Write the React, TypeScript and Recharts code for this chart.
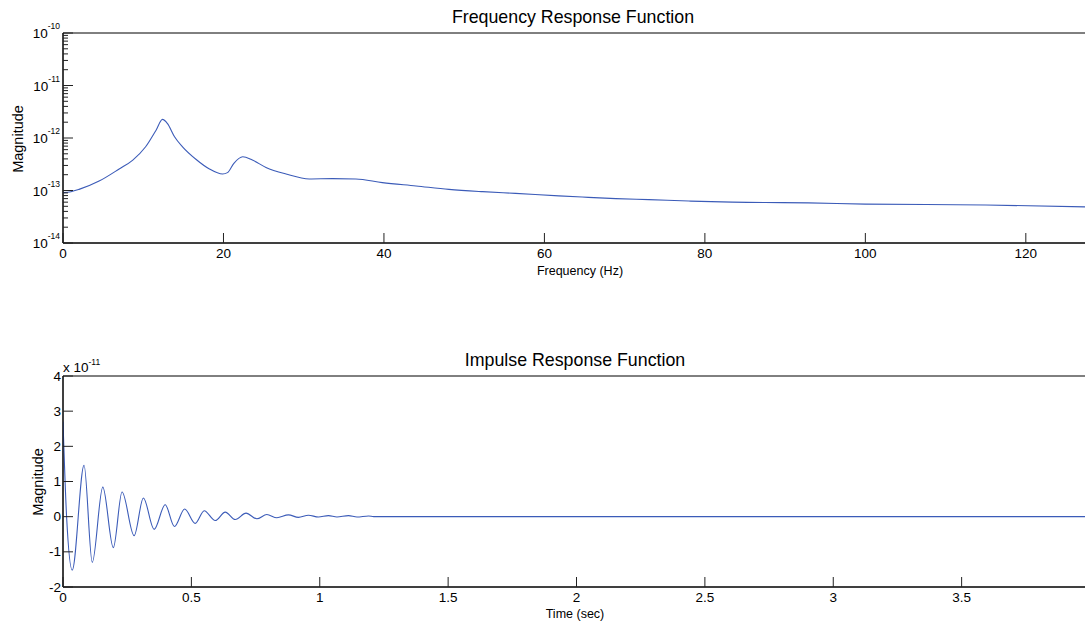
import { LineChart, Line, XAxis, YAxis, ReferenceArea } from "recharts";

// FRF magnitude (Hz -> magnitude)
const freqHz = [
  0, 1, 2, 4.5, 7, 8.7, 10.3, 11.6, 12.4, 13.0, 13.9, 14.9, 16.6, 18.2, 19.9,
  20.5, 21.3, 22.4, 23.6, 25.3, 27.8, 30.7, 33.6, 36.5, 39.8, 44, 48.1, 52.3,
  56.4, 61.8, 64.7, 68.9, 73, 78, 83.4, 87.5, 92.9, 100, 115, 128,
];
const frfMag = [
  9.1e-14, 9.5e-14, 1.05e-13, 1.51e-13, 2.57e-13, 3.8e-13, 6.8e-13, 1.41e-12,
  2.26e-12, 1.9e-12, 1.06e-12, 6.8e-13, 3.9e-13, 2.6e-13, 2.06e-13, 2.19e-13,
  3.3e-13, 4.4e-13, 3.8e-13, 2.75e-13, 2.06e-13, 1.66e-13, 1.68e-13, 1.66e-13,
  1.41e-13, 1.22e-13, 1.05e-13, 9.5e-14, 8.8e-14, 7.9e-14, 7.5e-14, 7.0e-14,
  6.7e-14, 6.3e-14, 6.0e-14, 5.9e-14, 5.8e-14, 5.5e-14, 5.3e-14, 4.85e-14,
];

// impulse response, in units of 1e-11
const timeSec = [
  0, 0.014, 0.036, 0.082, 0.114, 0.155, 0.196, 0.23, 0.277, 0.313, 0.355,
  0.398, 0.434, 0.474, 0.515, 0.55, 0.593, 0.632, 0.671, 0.713, 0.755, 0.794,
  0.833, 0.878, 0.917, 0.956, 0.995, 1.034, 1.067, 1.112, 1.145, 1.19, 1.21, 4,
];
const irfAmp = [
  2.7, 0, -1.52, 1.46, -1.3, 0.84, -0.88, 0.7, -0.54, 0.53, -0.36, 0.34, -0.28,
  0.22, -0.19, 0.17, -0.11, 0.13, -0.08, 0.1, -0.06, 0.06, -0.03, 0.05, -0.02,
  0.04, -0.01, 0.03, -0.01, 0.03, -0.01, 0.02, 0, 0,
];

const freqTicks = [0, 20, 40, 60, 80, 100, 120];
const magDecades = [-14, -13, -12, -11, -10];
const timeTicks = [0, 0.5, 1, 1.5, 2, 2.5, 3, 3.5];
const ampTicks = [-2, -1, 0, 1, 2, 3, 4];

const minorSteps = [1, 2, 3, 4, 5, 6, 7, 8, 9];
const magTicks = magDecades.flatMap((d, i) =>
  i === magDecades.length - 1 ? [10 ** d] : minorSteps.map((m) => m * 10 ** d)
);

const frfData = freqHz.map((f, i) => ({ f, mag: frfMag[i] }));
const irfData = timeSec.map((t, i) => ({ t, amp: irfAmp[i] }));

const FONT = "'Liberation Sans', Arial, Helvetica, sans-serif";
const LINE = "#3b5bb8";
const TICK = "#222";
const TICK_FONT = 13.5;
const W = 1091;

type TickProps = { x?: number; y?: number; payload?: { value: number } };

const isDecade = (v: number) =>
  Math.abs(Math.log10(v) - Math.round(Math.log10(v))) < 1e-9;

const LogLeftTick = ({ x = 0, y = 0, payload }: TickProps) => {
  const v = payload?.value ?? 1;
  const major = isDecade(v);
  return (
    <g>
      <line x1={x} x2={x + (major ? 10 : 5)} y1={y} y2={y} stroke={TICK} />
      {major && (
        <text x={x - 3} y={y + 5} textAnchor="end" fontSize={TICK_FONT} fontFamily={FONT} fill="#000">
          10
          <tspan dy={-9} fontSize={8.5}>
            {Math.round(Math.log10(v))}
          </tspan>
        </text>
      )}
    </g>
  );
};

const LogRightTick = ({ x = 0, y = 0, payload }: TickProps) => {
  const major = isDecade(payload?.value ?? 1);
  return <line x1={x} x2={x - (major ? 10 : 5)} y1={y} y2={y} stroke={TICK} />;
};

const LeftTick = ({ x = 0, y = 0, payload }: TickProps) => (
  <g>
    <line x1={x} x2={x + 10} y1={y} y2={y} stroke={TICK} />
    <text x={x - 2} y={y + 4.5} textAnchor="end" fontSize={TICK_FONT} fontFamily={FONT} fill="#000">
      {payload?.value}
    </text>
  </g>
);

const RightTick = ({ x = 0, y = 0 }: TickProps) => (
  <line x1={x} x2={x - 10} y1={y} y2={y} stroke={TICK} />
);

const TopTick = ({ x = 0, y = 0 }: TickProps) => (
  <line x1={x} x2={x} y1={y} y2={y + 10} stroke={TICK} />
);

const BottomTick = ({ x = 0, y = 0, payload }: TickProps) => (
  <g>
    <line x1={x} x2={x} y1={y} y2={y - 10} stroke={TICK} />
    <text x={x} y={y + 15} textAnchor="middle" fontSize={TICK_FONT} fontFamily={FONT} fill="#000">
      {payload?.value}
    </text>
  </g>
);

const axisProps = {
  type: "number" as const,
  interval: 0 as const,
  tickSize: 0,
  tickMargin: 0,
  tickLine: false,
  axisLine: true,
  stroke: "#000",
  allowDataOverflow: true,
};

const FrfChart = () => (
  <LineChart width={W} height={290} data={frfData} margin={{ top: 33, right: 1, bottom: 0, left: 0 }}>
    <XAxis {...axisProps} dataKey="f" domain={[0, 128]} ticks={freqTicks} height={47} tick={<BottomTick />} />
    <XAxis
      {...axisProps}
      xAxisId="top"
      orientation="top"
      dataKey="f"
      domain={[0, 128]}
      ticks={freqTicks}
      height={0}
      tick={<TopTick />}
    />
    <YAxis {...axisProps} scale="log" domain={[1e-14, 1e-10]} ticks={magTicks} width={63} tick={<LogLeftTick />} />
    <YAxis
      {...axisProps}
      yAxisId="right"
      orientation="right"
      scale="log"
      domain={[1e-14, 1e-10]}
      ticks={magTicks}
      width={0}
      tick={<LogRightTick />}
    />
    <ReferenceArea
      x1={0}
      x2={128}
      y1={1e-14}
      y2={1e-10}
      fill="none"
      stroke="#000"
      strokeWidth={1}
      fillOpacity={0}
      ifOverflow="visible"
    />
    <Line dataKey="mag" type="monotone" stroke={LINE} strokeWidth={1.1} dot={false} isAnimationActive={false} />
  </LineChart>
);

const IrfChart = () => (
  <LineChart width={W} height={295} data={irfData} margin={{ top: 46, right: 1, bottom: 0, left: 0 }}>
    <XAxis {...axisProps} dataKey="t" domain={[0, 4]} ticks={timeTicks} height={38} tick={<BottomTick />} />
    <XAxis
      {...axisProps}
      xAxisId="top"
      orientation="top"
      dataKey="t"
      domain={[0, 4]}
      ticks={timeTicks}
      height={0}
      tick={<TopTick />}
    />
    <YAxis {...axisProps} domain={[-2, 4]} ticks={ampTicks} width={63} tick={<LeftTick />} />
    <YAxis
      {...axisProps}
      yAxisId="right"
      orientation="right"
      domain={[-2, 4]}
      ticks={ampTicks}
      width={0}
      tick={<RightTick />}
    />
    <ReferenceArea
      x1={0}
      x2={4}
      y1={-2}
      y2={4}
      fill="none"
      stroke="#000"
      strokeWidth={1}
      fillOpacity={0}
      ifOverflow="visible"
    />
    <Line dataKey="amp" type="monotone" stroke={LINE} strokeWidth={1.1} dot={false} isAnimationActive={false} />
  </LineChart>
);

export default function App() {
  return (
    <div
      style={{
        position: "absolute",
        left: 0,
        top: 0,
        width: 1085,
        height: 625,
        overflow: "hidden",
        background: "#fff",
      }}
    >
      <div style={{ position: "absolute", left: 0, top: 0 }}>
        <FrfChart />
      </div>
      <div style={{ position: "absolute", left: 0, top: 330 }}>
        <IrfChart />
      </div>
      <svg
        width={1085}
        height={625}
        style={{ position: "absolute", left: 0, top: 0, pointerEvents: "none" }}
        fontFamily={FONT}
        fill="#000"
      >
        <text x={573} y={23} textAnchor="middle" fontSize={17.8}>
          Frequency Response Function
        </text>
        <text x={580} y={275} textAnchor="middle" fontSize={12.5}>
          Frequency (Hz)
        </text>
        <text transform="translate(23,139) rotate(-90)" textAnchor="middle" fontSize={14.5}>
          Magnitude
        </text>

        <text x={575} y={366} textAnchor="middle" fontSize={17.8}>
          Impulse Response Function
        </text>
        <text x={63} y={371.5} fontSize={13.5}>
          x 10
          <tspan dy={-7} fontSize={8.5}>
            -11
          </tspan>
        </text>
        <text transform="translate(43,482) rotate(-90)" textAnchor="middle" fontSize={14.5}>
          Magnitude
        </text>
        <text x={575} y={618} textAnchor="middle" fontSize={12.5}>
          Time (sec)
        </text>
      </svg>
    </div>
  );
}
